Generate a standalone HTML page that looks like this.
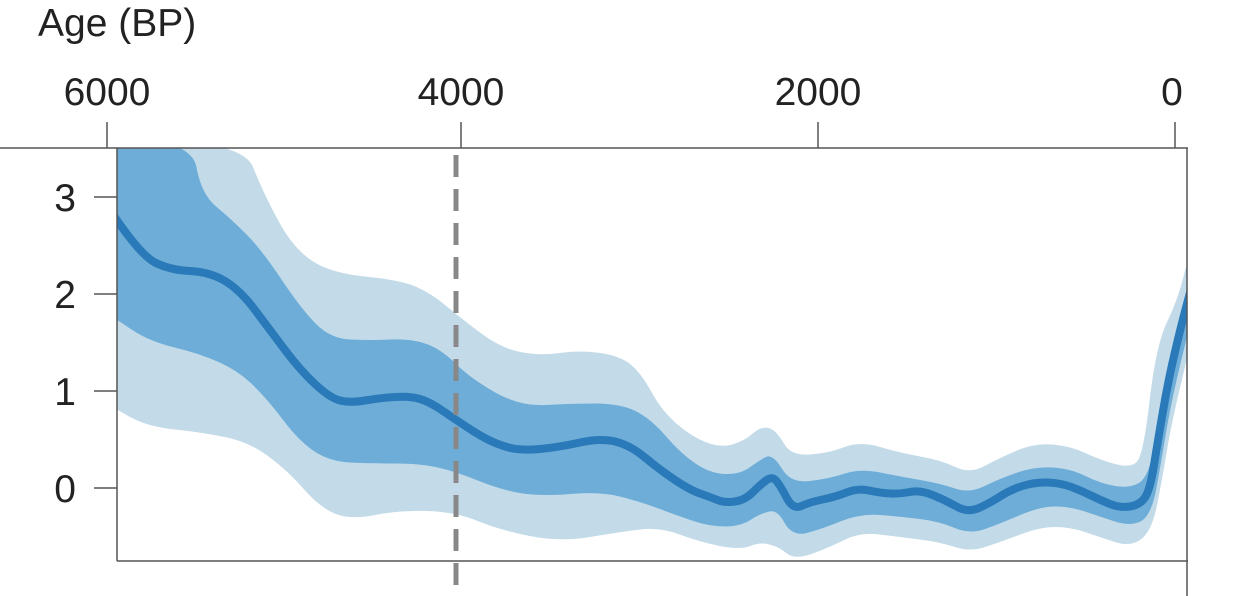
<!DOCTYPE html>
<html><head><meta charset="utf-8"><style>
html,body{margin:0;padding:0;background:#fff;}
svg{display:block;}
text{font-family:"Liberation Sans",sans-serif;fill:#222;}
</style></head><body>
<svg width="1246" height="596" viewBox="0 0 1246 596" xmlns="http://www.w3.org/2000/svg">
<defs><clipPath id="c"><rect x="117" y="148" width="1070" height="413"/></clipPath></defs>
<g clip-path="url(#c)" stroke-linejoin="round">
<path id="outer" fill="#c3dbe9" stroke="#c3dbe9" stroke-width="4" data-p="117,140 240,140 262,195 292,250 330,275 400,282 430,295 460,320 500,350 540,358 580,352 620,358 640,375 660,412 690,438 720,450 745,443 762,428 775,432 790,458 830,455 860,443 900,455 940,462 970,476 1000,460 1035,445 1070,448 1100,462 1130,470 1145,458 1158,345 1180,300 1192,250 1192,330 1170,420 1160,480 1150,530 1130,545 1100,535 1070,525 1040,525 1000,540 970,550 940,540 900,535 860,530 830,545 795,558 780,545 760,540 740,548 700,540 660,525 620,530 560,540 500,528 456,510 400,508 350,518 320,505 290,470 250,440 200,430 150,425 117,408 110,400"/>
<path id="inner" fill="#6eadd7" stroke="#6eadd7" stroke-width="3" data-p="117,140 190,140 200,195 230,220 260,250 300,310 330,340 370,342 410,340 440,350 470,380 520,408 570,405 620,405 650,420 680,455 710,475 740,476 760,462 772,455 790,485 830,480 860,470 900,478 940,485 970,495 1000,480 1035,468 1070,470 1100,485 1130,490 1150,478 1160,420 1170,360 1192,280 1192,310 1170,400 1160,460 1150,515 1130,525 1100,515 1070,505 1040,505 1000,522 970,533 940,520 900,515 860,512 820,528 793,535 778,508 760,512 740,525 710,525 680,515 640,500 600,490 540,495 500,488 456,470 420,462 370,462 330,460 300,440 270,400 240,370 200,352 150,340 117,318 110,314"/>
<path id="mid" fill="none" stroke="#2a79b8" stroke-width="8" stroke-linecap="round" data-p="110,210 140,255 170,270 210,272 240,290 270,330 300,370 330,398 350,403 380,398 410,396 430,402 456,420 490,442 520,451 560,447 600,438 630,445 660,470 690,490 710,497 725,503 745,500 760,485 772,476 780,485 793,510 810,502 835,497 858,488 880,493 900,494 920,490 945,500 968,513 990,503 1010,490 1035,482 1060,483 1080,490 1100,500 1120,508 1140,505 1150,490 1158,440 1168,382 1180,330 1192,285"/>
</g>
<line x1="456" y1="155" x2="456" y2="596" stroke="#888" stroke-width="5" stroke-dasharray="22,12"/>
<g stroke="#555" stroke-width="1.5" fill="none">
<line x1="0" y1="148" x2="1188" y2="148"/>
<line x1="117" y1="148" x2="117" y2="561"/>
<line x1="117" y1="561" x2="1188" y2="561"/>
<line x1="1187" y1="148" x2="1187" y2="596"/>
<line x1="107" y1="122" x2="107" y2="148"/>
<line x1="461" y1="122" x2="461" y2="148"/>
<line x1="818" y1="122" x2="818" y2="148"/>
<line x1="1175" y1="122" x2="1175" y2="148"/>
<line x1="94" y1="197" x2="117" y2="197"/>
<line x1="94" y1="294" x2="117" y2="294"/>
<line x1="94" y1="391" x2="117" y2="391"/>
<line x1="94" y1="488" x2="117" y2="488"/>
</g>
<g font-size="39">
<text x="38" y="36">Age (BP)</text>
<text x="107" y="105" text-anchor="middle">6000</text>
<text x="461" y="105" text-anchor="middle">4000</text>
<text x="818" y="105" text-anchor="middle">2000</text>
<text x="1172" y="105" text-anchor="middle">0</text>
<text x="76" y="211" text-anchor="end">3</text>
<text x="76" y="308" text-anchor="end">2</text>
<text x="76" y="405" text-anchor="end">1</text>
<text x="76" y="502" text-anchor="end">0</text>
</g>
</svg>
<script>
["outer","inner","mid"].forEach(function(id){
 var el=document.getElementById(id);
 var pts=el.getAttribute("data-p").trim().split(/\s+/).map(function(s){return s.split(",").map(Number);});
 var closed=id!=="mid";
 var d="M"+pts[0][0]+","+pts[0][1];
 for(var i=1;i<pts.length-1;i++){
  var mx=(pts[i][0]+pts[i+1][0])/2,my=(pts[i][1]+pts[i+1][1])/2;
  d+=" Q"+pts[i][0]+","+pts[i][1]+" "+mx+","+my;
 }
 var l=pts[pts.length-1];d+=" L"+l[0]+","+l[1];
 if(closed)d+=" Z";
 el.setAttribute("d",d);
});
</script>
</body></html>
